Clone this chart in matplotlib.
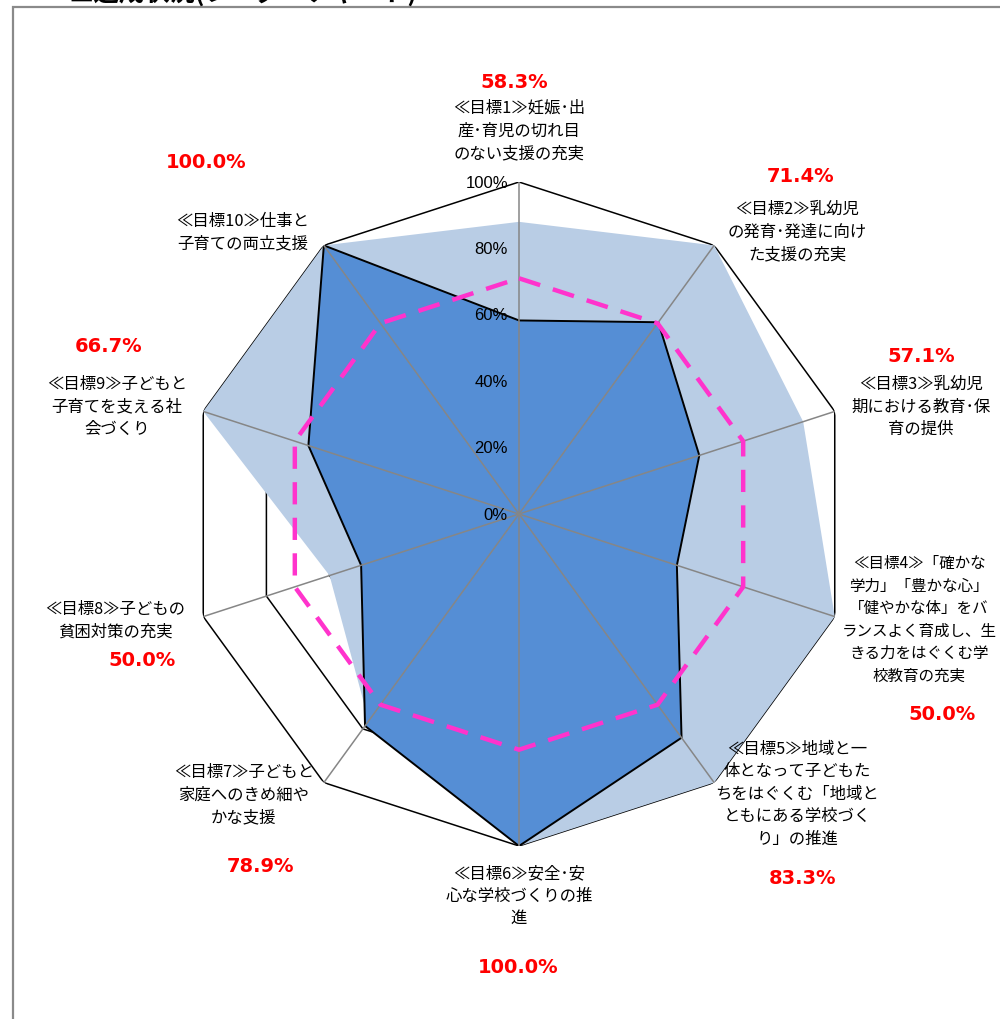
import numpy as np
import matplotlib
matplotlib.use('Agg')
import matplotlib.pyplot as plt
from matplotlib.patches import Rectangle

categories = [
    '≪目標1≫妊娠･出\n産･育児の切れ目\nのない支援の充実',
    '≪目標2≫乳幼児\nの発育･発達に向け\nた支援の充実',
    '≪目標3≫乳幼児\n期における教育･保\n育の提供',
    '≪目標4≫「確かな\n学力」「豊かな心」\n「健やかな体」をバ\nランスよく育成し、生\nきる力をはぐくむ学\n校教育の充実',
    '≪目標5≫地域と一\n体となって子どもた\nちをはぐくむ「地域と\nともにある学校づく\nり」の推進',
    '≪目標6≫安全･安\n心な学校づくりの推\n進',
    '≪目標7≫子どもと\n家庭へのきめ細や\nかな支援',
    '≪目標8≫子どもの\n貧困対策の充実',
    '≪目標9≫子どもと\n子育てを支える社\n会づくり',
    '≪目標10≫仕事と\n子育ての両立支援',
]
achieved = [58.3, 71.4, 57.1, 50.0, 83.3, 100.0, 78.9, 50.0, 66.7, 100.0]
previous = [88, 100, 90, 100, 100, 100, 77, 60, 100, 100]
overall = [71, 71, 71, 71, 71, 71, 71, 71, 71, 71]
ring_levels = [20, 40, 60, 80, 100]
tick_labels = ['0%', '20%', '40%', '60%', '80%', '100%']
title = '■達成状況(レーダーチャート)'

# label layout in pixels (x, y) on the 1000x1020 canvas
label_pos = [(519, 131), (797, 232), (921, 407), (919, 620), (797, 794),
             (519, 896), (244, 795), (115, 621), (117, 407), (243, 233)]
label_size = [11.8, 11.8, 11.8, 11.2, 11.8, 11.8, 11.8, 11.8, 11.8, 11.8]
value_pos = [(514, 83), (801, 177), (921, 357), (942, 715), (803, 878),
             (518, 968), (260, 867), (142, 660), (109, 347), (206, 162)]

W, H = 1000, 1020


def fig_xy(x, y):
    return x / W, 1 - y / H


jp = ['Noto Sans CJK JP', 'DejaVu Sans']

fig = plt.figure(figsize=(10, 10.2), dpi=100)

# chart frame (only top/left edge visible)
fig.add_artist(Rectangle(fig_xy(13, 1100), 2, (1100 - 8) / H, transform=fig.transFigure,
                         fill=False, edgecolor='#8a8a8a', linewidth=1.6))
# title sits above the frame and is cut by the top edge, as in the source
fig.text(68 / W, 1 - 7 / H, title, family=jp, fontsize=18.3, fontweight='bold',
         ha='left', va='bottom')

cx, cy, R = 519, 515, 332
ax = fig.add_axes([(cx - R) / W, (H - cy - R) / H, 2 * R / W, 2 * R / H], projection='polar')
ax.set_theta_zero_location('N')
ax.set_theta_direction(-1)
ax.set_ylim(0, 100)
ax.set_axis_off()

n = len(categories)
theta = np.arange(n) * 2 * np.pi / n
closed = np.append(theta, theta[0])


def close(vals):
    return np.append(vals, vals[0])


# polygon rings
for lv in ring_levels:
    ax.plot(closed, [lv] * (n + 1), color='black', linewidth=1.1, zorder=1)

ax.fill(closed, close(previous), color='#B9CDE5', linewidth=0, zorder=2)
ax.fill(closed, close(achieved), facecolor='#558ED5', edgecolor='black', linewidth=1.4, zorder=3)

# spokes
for t in theta:
    ax.plot([t, t], [0, 100], color='#868686', linewidth=1.1, zorder=4)

ax.plot(closed, close(overall), color='#FF33CC', linewidth=3.2,
        linestyle=(0, (5, 3)), zorder=5)

for i, lab in enumerate(tick_labels):
    ax.annotate(lab, xy=(0, i * 20), xytext=(-8, 0), textcoords='offset points',
                ha='right', va='center', fontsize=12, family='Liberation Sans', zorder=6)

for lab, v, (lx, ly), fs, (vx, vy) in zip(categories, achieved, label_pos, label_size, value_pos):
    fig.text(*fig_xy(lx, ly), lab, family=jp, fontsize=fs, ha='center', va='center',
             linespacing=1.42)
    fig.text(*fig_xy(vx, vy), f'{v:.1f}%', family='DejaVu Sans', fontweight='bold',
             fontsize=14, color='#FF0000', ha='center', va='center')

fig.savefig('out.png', dpi=100)
